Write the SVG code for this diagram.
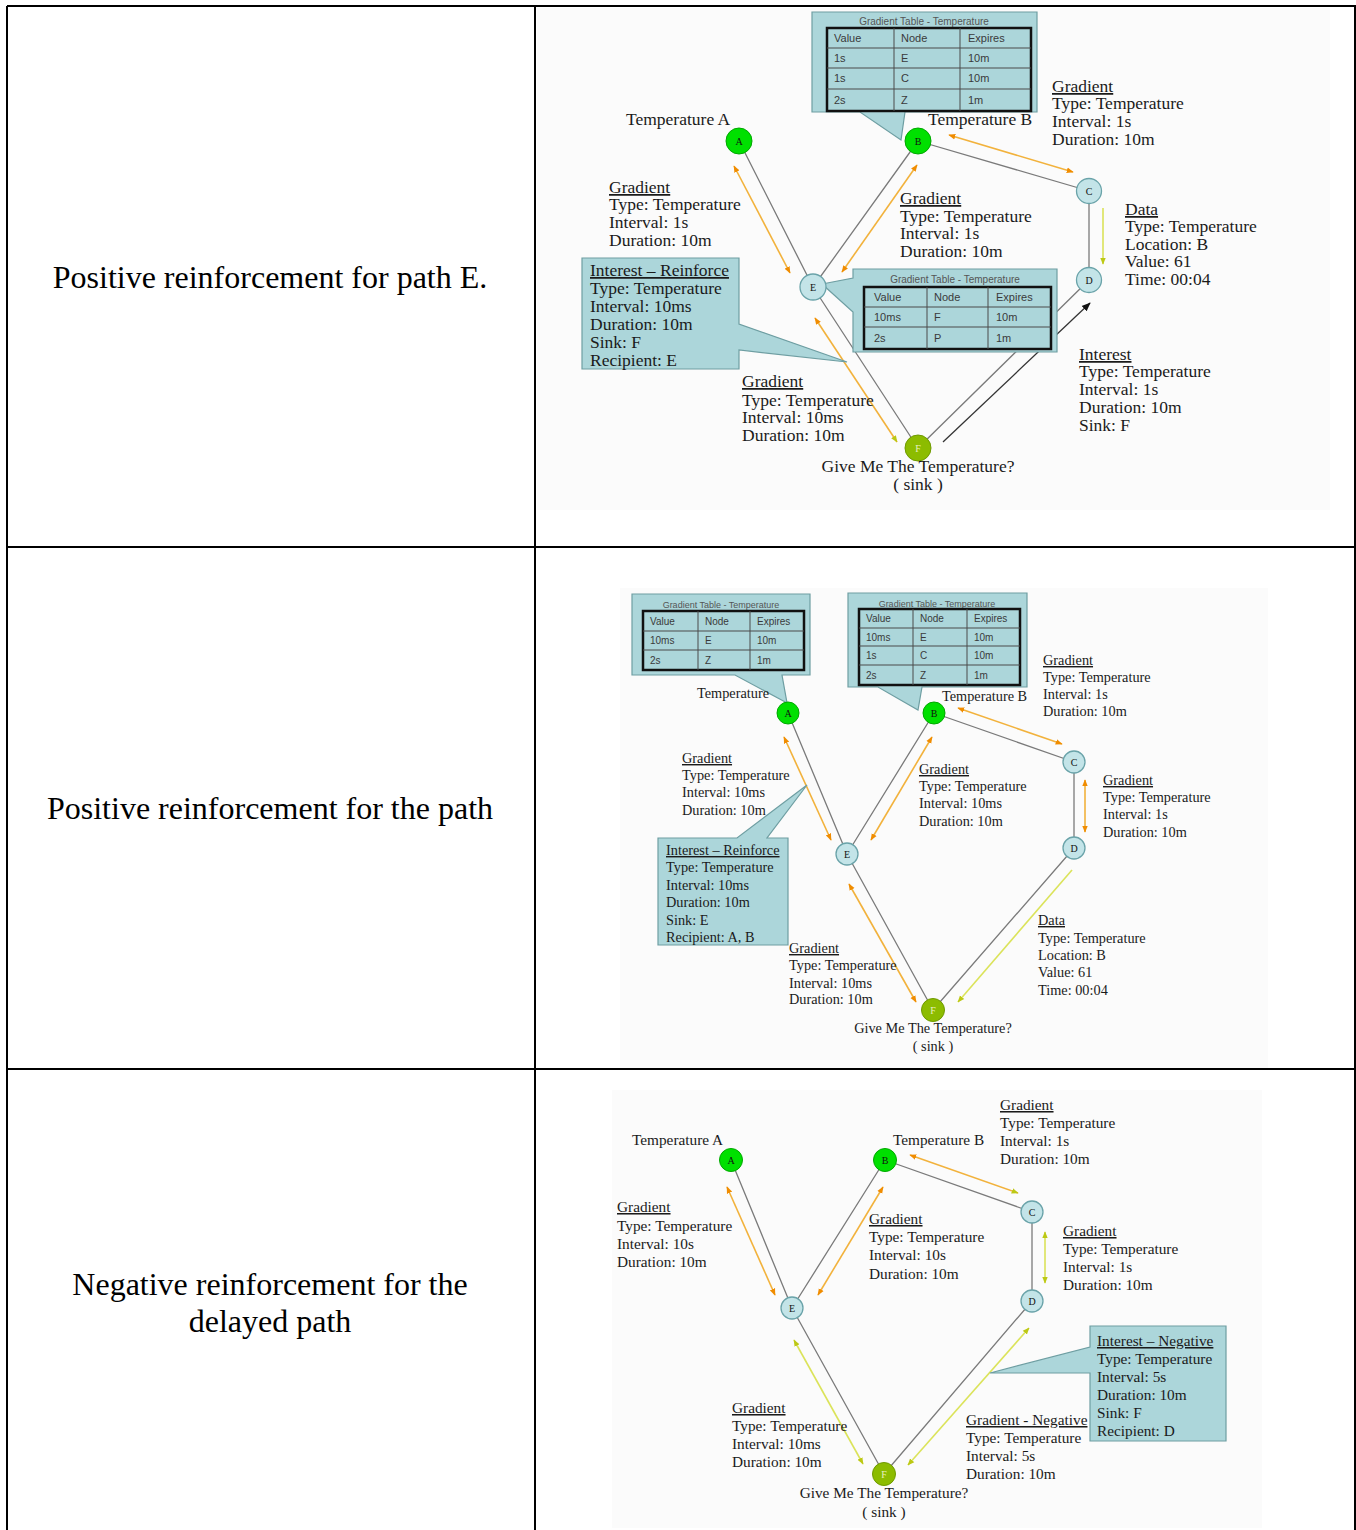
<svg xmlns="http://www.w3.org/2000/svg" width="1356" height="1530" viewBox="0 0 1356 1530">
<style>
.grid{stroke:#000;stroke-width:2;fill:none}
.bg{fill:#fbfbfb}
.edge{stroke:#7a7a7a;stroke-width:1.3;fill:none}
.dark{stroke:#333;stroke-width:1.3;fill:none}
.or{stroke:#f2b23c;stroke-width:1.6;fill:none}
.yl{stroke:#dbe35a;stroke-width:1.6;fill:none}
.call{fill:#acd6da;stroke:#6e9ea2;stroke-width:1.2}
.tb{fill:none;stroke:#111;stroke-width:2.5}
.tl{stroke:#4a4a4a;stroke-width:1}
.tt{font-family:"Liberation Sans",Arial,sans-serif;fill:#555}
.ct{font-family:"Liberation Sans",Arial,sans-serif;fill:#3a3a3a}
.s1{font-family:"Liberation Serif","Times New Roman",serif;font-size:17.5px;fill:#1a1a1a}
.s2{font-family:"Liberation Serif","Times New Roman",serif;font-size:14.3px;fill:#1a1a1a}
.s3{font-family:"Liberation Serif","Times New Roman",serif;font-size:15.3px;fill:#1a1a1a}
.big{font-family:"Liberation Serif","Times New Roman",serif;font-size:32px;fill:#000}
.u{text-decoration:underline}
.ng{fill:#00e000;stroke:#00a800;stroke-width:1}
.nc{fill:#c3e4e8;stroke:#6aa3a9;stroke-width:1.3}
.nf{fill:#8cbc00;stroke:#6f9a00;stroke-width:1}
.nl{font-family:"Liberation Serif","Times New Roman",serif;font-size:10px;fill:#111;text-anchor:middle}
.nlw{font-family:"Liberation Serif","Times New Roman",serif;font-size:10px;fill:#e8f0c0;text-anchor:middle}
.mid{text-anchor:middle}
</style>
<defs>
<marker id="ao" viewBox="0 0 10 10" refX="9" refY="5" markerWidth="7" markerHeight="7" orient="auto-start-reverse" markerUnits="userSpaceOnUse"><path d="M0,1 L10,5 L0,9 Z" fill="#f08c00"/></marker>
<marker id="ay" viewBox="0 0 10 10" refX="9" refY="5" markerWidth="7" markerHeight="7" orient="auto-start-reverse" markerUnits="userSpaceOnUse"><path d="M0,1 L10,5 L0,9 Z" fill="#bcc814"/></marker>
<marker id="ak" viewBox="0 0 10 10" refX="9" refY="5" markerWidth="9" markerHeight="9" orient="auto" markerUnits="userSpaceOnUse"><path d="M0,1 L10,5 L0,9 Z" fill="#111"/></marker>
</defs>
<rect width="1356" height="1530" fill="#fff"/>
<rect class="bg" x="537" y="8" width="793" height="502"/>
<rect class="bg" x="620" y="588" width="648" height="480"/>
<rect class="bg" x="612" y="1090" width="650" height="438"/>

<g id="table-grid">
<path class="grid" d="M7,6 H1356 M7,6 V1530 M535,6 V1530 M1355,6 V1530 M7,547 H1356 M7,1069 H1356"/>
</g>

<g id="row-labels">
<text class="big mid" x="270" y="288">Positive reinforcement for path E.</text>
<text class="big mid" x="270" y="819">Positive reinforcement for the path</text>
<text class="big mid" x="270" y="1295">Negative reinforcement for the</text>
<text class="big mid" x="270" y="1332">delayed path</text>
</g>

<g id="connectors">
<!-- panel 1 -->
<path class="edge" d="M739,141 L813,287 M918,141 L813,287 M813,287 L918,448 M918,141 L1089,191 M1089,191 L1089,280 M918,448 L1089,280"/>
<path class="dark" d="M943,442 L1090,303" marker-end="url(#ak)"/>
<path class="or" d="M734,166 L790,273" marker-start="url(#ao)" marker-end="url(#ao)"/>
<path class="or" d="M917,165 L842,272" marker-start="url(#ao)" marker-end="url(#ao)"/>
<path class="or" d="M949,135 L1073,172" marker-start="url(#ao)" marker-end="url(#ao)"/>
<path class="yl" d="M1103,208 L1103,264" marker-end="url(#ay)"/>
<path class="or" d="M815,318 L897,442" marker-start="url(#ao)" marker-end="url(#ay)"/>
<!-- panel 2 -->
<path class="edge" d="M788,713 L847,854 M934,713 L847,854 M847,854 L933,1010 M934,713 L1074,762 M1074,762 L1074,848 M1074,848 L933,1010"/>
<path class="or" d="M784,737 L831,840" marker-start="url(#ao)" marker-end="url(#ao)"/>
<path class="or" d="M932,737 L871,840" marker-start="url(#ao)" marker-end="url(#ao)"/>
<path class="or" d="M958,708 L1062,744" marker-start="url(#ao)" marker-end="url(#ao)"/>
<path class="or" d="M1085,780 L1085,832" marker-start="url(#ao)" marker-end="url(#ao)"/>
<path class="or" d="M849,884 L916,1002" marker-start="url(#ao)" marker-end="url(#ao)"/>
<path class="yl" d="M1072,870 L958,1002" marker-end="url(#ay)"/>
<!-- panel 3 -->
<path class="edge" d="M731,1160 L792,1308 M885,1160 L792,1308 M792,1308 L884,1474 M885,1160 L1032,1212 M1032,1212 L1032,1301 M1032,1301 L884,1474"/>
<path class="or" d="M727,1187 L775,1295" marker-start="url(#ao)" marker-end="url(#ao)"/>
<path class="or" d="M883,1187 L818,1295" marker-start="url(#ao)" marker-end="url(#ao)"/>
<path class="or" d="M910,1155 L1018,1193" marker-start="url(#ao)" marker-end="url(#ay)"/>
<path class="yl" d="M1045,1232 L1045,1283" marker-start="url(#ay)" marker-end="url(#ay)"/>
<path class="yl" d="M794,1340 L863,1464" marker-start="url(#ay)" marker-end="url(#ay)"/>
<path class="yl" d="M1029,1328 L908,1465" marker-start="url(#ay)" marker-end="url(#ay)"/>
</g>

<!-- PANEL 1 callouts -->
<g id="p1-gradient-table-B">
<path class="call" d="M812,12 H1037 V112 H905 L901,140 L860,112 H812 Z"/>
<text class="tt mid" x="924" y="25" font-size="10">Gradient Table - Temperature</text>
<rect class="tb" x="827" y="28" width="204" height="83"/>
<path class="tl" d="M827,48 H1031 M827,68 H1031 M827,89 H1031 M894,28 V111 M960,28 V111"/>
<g class="ct" font-size="11">
<text x="834" y="42">Value</text><text x="901" y="42">Node</text><text x="968" y="42">Expires</text>
<text x="834" y="62">1s</text><text x="901" y="62">E</text><text x="968" y="62">10m</text>
<text x="834" y="82">1s</text><text x="901" y="82">C</text><text x="968" y="82">10m</text>
<text x="834" y="104">2s</text><text x="901" y="104">Z</text><text x="968" y="104">1m</text>
</g>
</g>
<g id="p1-gradient-table-E">
<path class="call" d="M853,269 H1057 V352 H853 V312 L822,284 L853,278 Z"/>
<text class="tt mid" x="955" y="283" font-size="10">Gradient Table - Temperature</text>
<rect class="tb" x="864" y="287" width="187" height="62"/>
<path class="tl" d="M864,307 H1051 M864,327 H1051 M927,287 V349 M988,287 V349"/>
<g class="ct" font-size="11">
<text x="874" y="301">Value</text><text x="934" y="301">Node</text><text x="996" y="301">Expires</text>
<text x="874" y="321">10ms</text><text x="934" y="321">F</text><text x="996" y="321">10m</text>
<text x="874" y="342">2s</text><text x="934" y="342">P</text><text x="996" y="342">1m</text>
</g>
</g>
<g id="p1-interest-reinforce">
<path class="call" d="M582,258 H739 V324 L847,362 L739,350 V369 H582 Z"/>
<text class="s1" x="590"><tspan x="590" y="276" class="u">Interest – Reinforce</tspan><tspan x="590" y="294">Type: Temperature</tspan><tspan x="590" y="312">Interval: 10ms</tspan><tspan x="590" y="330">Duration: 10m</tspan><tspan x="590" y="348">Sink: F</tspan><tspan x="590" y="366">Recipient: E</tspan></text>
</g>

<!-- PANEL 1 nodes -->
<g id="p1-node-A"><circle class="ng" cx="739" cy="141" r="13"/><text class="nl" x="739" y="145">A</text></g>
<g id="p1-node-B"><circle class="ng" cx="918" cy="141" r="13"/><text class="nl" x="918" y="145">B</text></g>
<g id="p1-node-C"><circle class="nc" cx="1089" cy="191" r="12.5"/><text class="nl" x="1089" y="195">C</text></g>
<g id="p1-node-D"><circle class="nc" cx="1089" cy="280" r="12.5"/><text class="nl" x="1089" y="284">D</text></g>
<g id="p1-node-E"><circle class="nc" cx="813" cy="287" r="13"/><text class="nl" x="813" y="291">E</text></g>
<g id="p1-node-F"><circle class="nf" cx="918" cy="448" r="13"/><text class="nlw" x="918" y="452">F</text></g>

<!-- PANEL 1 labels -->
<g id="p1-labels">
<text class="s1" x="626" y="125">Temperature A</text>
<text class="s1" x="928" y="125">Temperature B</text>
<text class="s1"><tspan x="609" y="193" class="u">Gradient</tspan><tspan x="609" y="210">Type: Temperature</tspan><tspan x="609" y="228">Interval: 1s</tspan><tspan x="609" y="246">Duration: 10m</tspan></text>
<text class="s1"><tspan x="900" y="204" class="u">Gradient</tspan><tspan x="900" y="222">Type: Temperature</tspan><tspan x="900" y="239">Interval: 1s</tspan><tspan x="900" y="257">Duration: 10m</tspan></text>
<text class="s1"><tspan x="1052" y="92" class="u">Gradient</tspan><tspan x="1052" y="109">Type: Temperature</tspan><tspan x="1052" y="127">Interval: 1s</tspan><tspan x="1052" y="145">Duration: 10m</tspan></text>
<text class="s1"><tspan x="1125" y="215" class="u">Data</tspan><tspan x="1125" y="232">Type: Temperature</tspan><tspan x="1125" y="250">Location: B</tspan><tspan x="1125" y="267">Value: 61</tspan><tspan x="1125" y="285">Time: 00:04</tspan></text>
<text class="s1"><tspan x="1079" y="360" class="u">Interest</tspan><tspan x="1079" y="377">Type: Temperature</tspan><tspan x="1079" y="395">Interval: 1s</tspan><tspan x="1079" y="413">Duration: 10m</tspan><tspan x="1079" y="431">Sink: F</tspan></text>
<text class="s1"><tspan x="742" y="387" class="u">Gradient</tspan><tspan x="742" y="406">Type: Temperature</tspan><tspan x="742" y="423">Interval: 10ms</tspan><tspan x="742" y="441">Duration: 10m</tspan></text>
<text class="s1 mid" x="918" y="472">Give Me The Temperature?</text>
<text class="s1 mid" x="918" y="490">( sink )</text>
</g>

<!-- PANEL 2 callouts -->
<g id="p2-gradient-table-A">
<path class="call" d="M632,594 H810 V675 H782 L787,703 L735,675 H632 Z"/>
<text class="tt mid" x="721" y="608" font-size="9">Gradient Table - Temperature</text>
<rect class="tb" x="643" y="611" width="161" height="59"/>
<path class="tl" d="M643,631 H804 M643,650 H804 M698,611 V670 M750,611 V670"/>
<g class="ct" font-size="10">
<text x="650" y="625">Value</text><text x="705" y="625">Node</text><text x="757" y="625">Expires</text>
<text x="650" y="644">10ms</text><text x="705" y="644">E</text><text x="757" y="644">10m</text>
<text x="650" y="664">2s</text><text x="705" y="664">Z</text><text x="757" y="664">1m</text>
</g>
</g>
<g id="p2-gradient-table-B">
<path class="call" d="M848,593 H1027 V687 H922 L918,710 L878,687 H848 Z"/>
<text class="tt mid" x="937" y="607" font-size="9">Gradient Table - Temperature</text>
<rect class="tb" x="859" y="609" width="161" height="76"/>
<path class="tl" d="M859,628 H1020 M859,646 H1020 M859,665 H1020 M913,609 V685 M967,609 V685"/>
<g class="ct" font-size="10">
<text x="866" y="622">Value</text><text x="920" y="622">Node</text><text x="974" y="622">Expires</text>
<text x="866" y="641">10ms</text><text x="920" y="641">E</text><text x="974" y="641">10m</text>
<text x="866" y="659">1s</text><text x="920" y="659">C</text><text x="974" y="659">10m</text>
<text x="866" y="679">2s</text><text x="920" y="679">Z</text><text x="974" y="679">1m</text>
</g>
</g>

<!-- PANEL 2 nodes -->
<g id="p2-node-A"><circle class="ng" cx="788" cy="713" r="11"/><text class="nl" x="788" y="717" font-size="9">A</text></g>
<g id="p2-node-B"><circle class="ng" cx="934" cy="713" r="11"/><text class="nl" x="934" y="717" font-size="9">B</text></g>
<g id="p2-node-C"><circle class="nc" cx="1074" cy="762" r="11"/><text class="nl" x="1074" y="766" font-size="9">C</text></g>
<g id="p2-node-D"><circle class="nc" cx="1074" cy="848" r="11"/><text class="nl" x="1074" y="852" font-size="9">D</text></g>
<g id="p2-node-E"><circle class="nc" cx="847" cy="854" r="11"/><text class="nl" x="847" y="858" font-size="9">E</text></g>
<g id="p2-node-F"><circle class="nf" cx="933" cy="1010" r="11.5"/><text class="nlw" x="933" y="1014" font-size="9">F</text></g>

<g id="p2-interest-reinforce">
<path class="call" d="M658,838 H737 L807,785 L767,838 H788 V945 H658 Z"/>
<text class="s2"><tspan x="666" y="855" class="u">Interest – Reinforce</tspan><tspan x="666" y="872">Type: Temperature</tspan><tspan x="666" y="890">Interval: 10ms</tspan><tspan x="666" y="907">Duration: 10m</tspan><tspan x="666" y="925">Sink: E</tspan><tspan x="666" y="942">Recipient: A, B</tspan></text>
</g>

<g id="p2-labels">
<text class="s2" x="697" y="698">Temperature</text>
<text class="s2" x="942" y="701">Temperature B</text>
<text class="s2"><tspan x="682" y="763" class="u">Gradient</tspan><tspan x="682" y="780">Type: Temperature</tspan><tspan x="682" y="797">Interval: 10ms</tspan><tspan x="682" y="815">Duration: 10m</tspan></text>
<text class="s2"><tspan x="919" y="774" class="u">Gradient</tspan><tspan x="919" y="791">Type: Temperature</tspan><tspan x="919" y="808">Interval: 10ms</tspan><tspan x="919" y="826">Duration: 10m</tspan></text>
<text class="s2"><tspan x="1043" y="665" class="u">Gradient</tspan><tspan x="1043" y="682">Type: Temperature</tspan><tspan x="1043" y="699">Interval: 1s</tspan><tspan x="1043" y="716">Duration: 10m</tspan></text>
<text class="s2"><tspan x="1103" y="785" class="u">Gradient</tspan><tspan x="1103" y="802">Type: Temperature</tspan><tspan x="1103" y="819">Interval: 1s</tspan><tspan x="1103" y="837">Duration: 10m</tspan></text>
<text class="s2"><tspan x="1038" y="925" class="u">Data</tspan><tspan x="1038" y="943">Type: Temperature</tspan><tspan x="1038" y="960">Location: B</tspan><tspan x="1038" y="977">Value: 61</tspan><tspan x="1038" y="995">Time: 00:04</tspan></text>
<text class="s2"><tspan x="789" y="953" class="u">Gradient</tspan><tspan x="789" y="970">Type: Temperature</tspan><tspan x="789" y="988">Interval: 10ms</tspan><tspan x="789" y="1004">Duration: 10m</tspan></text>
<text class="s2 mid" x="933" y="1033">Give Me The Temperature?</text>
<text class="s2 mid" x="933" y="1051">( sink )</text>
</g>

<!-- PANEL 3 -->
<g id="p3-interest-negative">
<path class="call" d="M1090,1326 H1226 V1441 H1090 V1373 L990,1373 L1090,1347 Z"/>
<text class="s3"><tspan x="1097" y="1346" class="u">Interest – Negative</tspan><tspan x="1097" y="1364">Type: Temperature</tspan><tspan x="1097" y="1382">Interval: 5s</tspan><tspan x="1097" y="1400">Duration: 10m</tspan><tspan x="1097" y="1418">Sink: F</tspan><tspan x="1097" y="1436">Recipient: D</tspan></text>
</g>
<g id="p3-node-A"><circle class="ng" cx="731" cy="1160" r="11.5"/><text class="nl" x="731" y="1164" font-size="9">A</text></g>
<g id="p3-node-B"><circle class="ng" cx="885" cy="1160" r="11.5"/><text class="nl" x="885" y="1164" font-size="9">B</text></g>
<g id="p3-node-C"><circle class="nc" cx="1032" cy="1212" r="11"/><text class="nl" x="1032" y="1216" font-size="9">C</text></g>
<g id="p3-node-D"><circle class="nc" cx="1032" cy="1301" r="11"/><text class="nl" x="1032" y="1305" font-size="9">D</text></g>
<g id="p3-node-E"><circle class="nc" cx="792" cy="1308" r="11"/><text class="nl" x="792" y="1312" font-size="9">E</text></g>
<g id="p3-node-F"><circle class="nf" cx="884" cy="1474" r="11.5"/><text class="nlw" x="884" y="1478" font-size="9">F</text></g>
<g id="p3-labels">
<text class="s3" x="632" y="1145">Temperature A</text>
<text class="s3" x="893" y="1145">Temperature B</text>
<text class="s3"><tspan x="1000" y="1110" class="u">Gradient</tspan><tspan x="1000" y="1128">Type: Temperature</tspan><tspan x="1000" y="1146">Interval: 1s</tspan><tspan x="1000" y="1164">Duration: 10m</tspan></text>
<text class="s3"><tspan x="617" y="1212" class="u">Gradient</tspan><tspan x="617" y="1231">Type: Temperature</tspan><tspan x="617" y="1249">Interval: 10s</tspan><tspan x="617" y="1267">Duration: 10m</tspan></text>
<text class="s3"><tspan x="869" y="1224" class="u">Gradient</tspan><tspan x="869" y="1242">Type: Temperature</tspan><tspan x="869" y="1260">Interval: 10s</tspan><tspan x="869" y="1279">Duration: 10m</tspan></text>
<text class="s3"><tspan x="1063" y="1236" class="u">Gradient</tspan><tspan x="1063" y="1254">Type: Temperature</tspan><tspan x="1063" y="1272">Interval: 1s</tspan><tspan x="1063" y="1290">Duration: 10m</tspan></text>
<text class="s3"><tspan x="732" y="1413" class="u">Gradient</tspan><tspan x="732" y="1431">Type: Temperature</tspan><tspan x="732" y="1449">Interval: 10ms</tspan><tspan x="732" y="1467">Duration: 10m</tspan></text>
<text class="s3"><tspan x="966" y="1425" class="u">Gradient - Negative</tspan><tspan x="966" y="1443">Type: Temperature</tspan><tspan x="966" y="1461">Interval: 5s</tspan><tspan x="966" y="1479">Duration: 10m</tspan></text>
<text class="s3 mid" x="884" y="1498">Give Me The Temperature?</text>
<text class="s3 mid" x="884" y="1517">( sink )</text>
</g>
</svg>
